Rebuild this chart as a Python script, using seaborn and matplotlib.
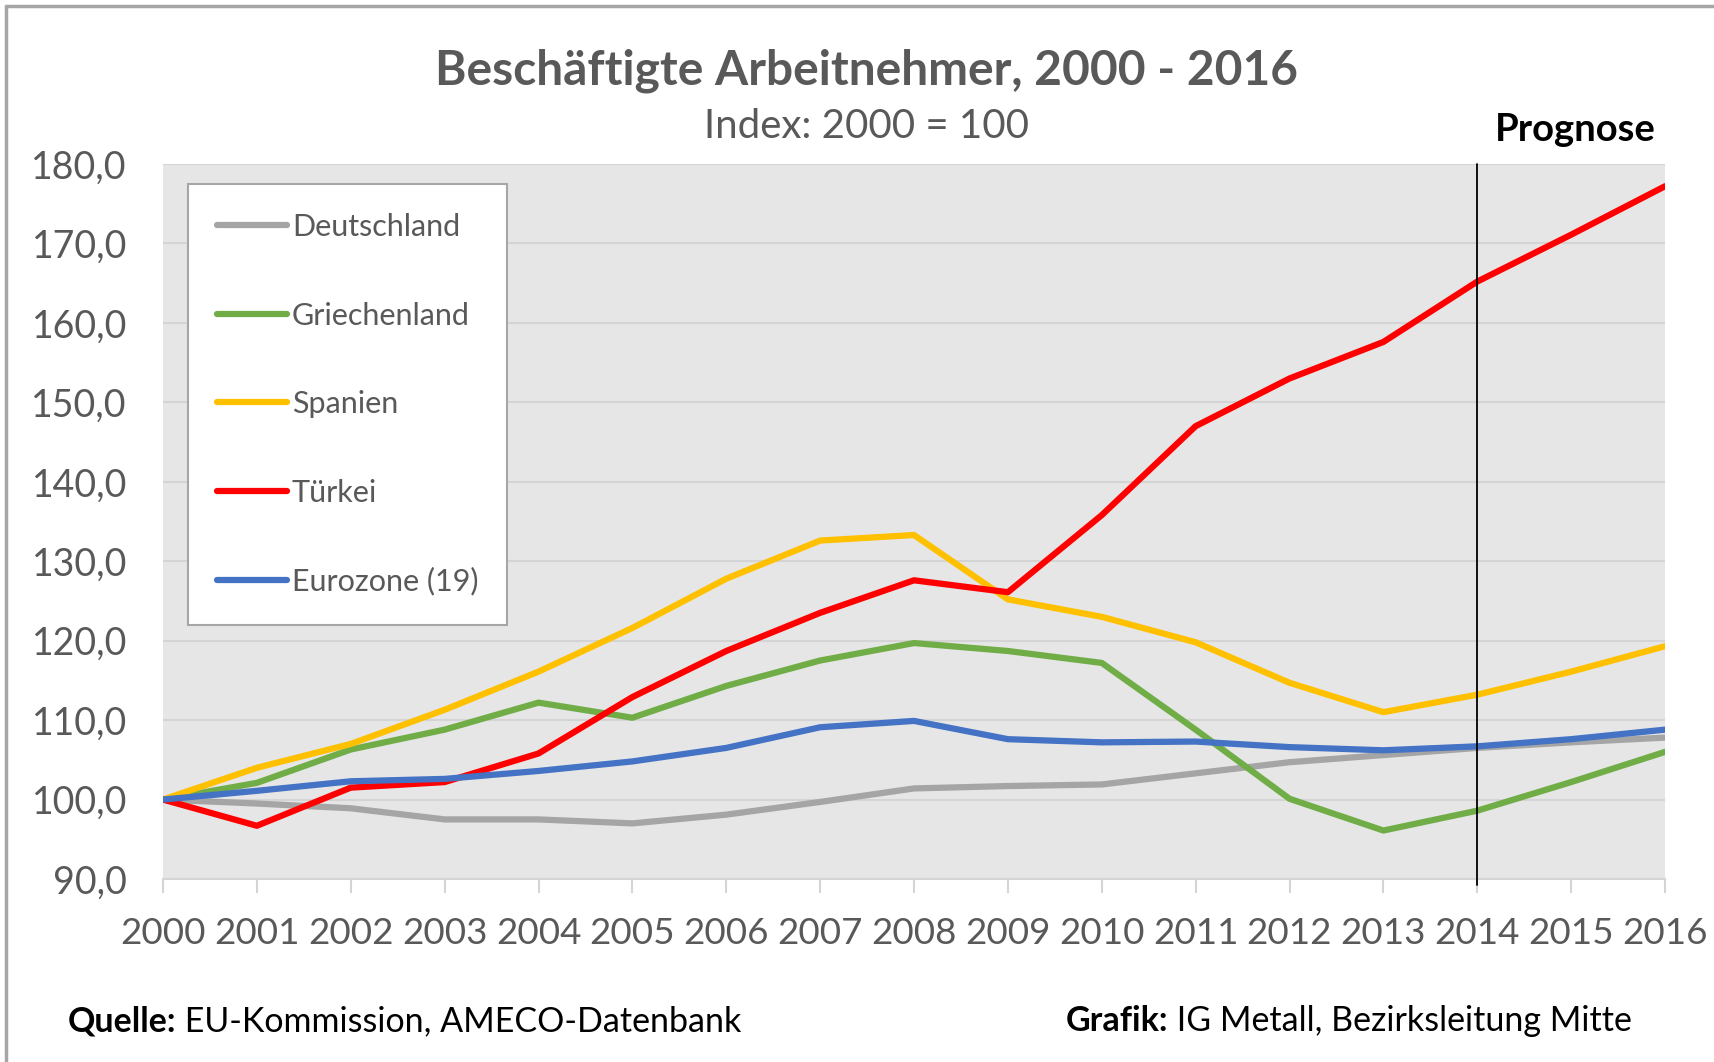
import numpy as np
import pandas as pd
import matplotlib
matplotlib.use("Agg")
import matplotlib.pyplot as plt
from matplotlib.lines import Line2D
import seaborn as sns

years = list(range(2000, 2017))
deutschland = [100.0, 99.5, 98.9, 97.5, 97.5, 97.0, 98.1, 99.7, 101.4, 101.7, 101.9,
               103.3, 104.7, 105.6, 106.5, 107.2, 107.8]
griechenland = [100.0, 102.1, 106.3, 108.8, 112.2, 110.3, 114.3, 117.5, 119.7, 118.7, 117.2,
                108.8, 100.1, 96.1, 98.6, 102.2, 106.0]
spanien = [100.0, 104.0, 107.0, 111.3, 116.1, 121.6, 127.8, 132.6, 133.3, 125.2, 123.0,
           119.8, 114.7, 111.0, 113.2, 116.1, 119.3]
tuerkei = [100.0, 96.7, 101.5, 102.2, 105.8, 112.9, 118.7, 123.5, 127.6, 126.1, 135.8,
           147.0, 153.0, 157.6, 165.2, 171.1, 177.2]
eurozone = [100.0, 101.1, 102.3, 102.6, 103.6, 104.8, 106.5, 109.1, 109.9, 107.6, 107.2,
            107.3, 106.6, 106.2, 106.7, 107.6, 108.8]

series_names = ["Deutschland", "Griechenland", "Spanien", "Türkei", "Eurozone (19)"]
colors = ["#A5A5A5", "#70AD47", "#FFC000", "#FF0000", "#4472C4"]
y_ticks = [90, 100, 110, 120, 130, 140, 150, 160, 170, 180]
prognose_year = 2014

df = pd.DataFrame({"Jahr": years,
                   "Deutschland": deutschland,
                   "Griechenland": griechenland,
                   "Spanien": spanien,
                   "Türkei": tuerkei,
                   "Eurozone (19)": eurozone})
long = df.melt(id_vars="Jahr", var_name="Land", value_name="Index")

sns.set_theme(style="white")
plt.rcParams["font.family"] = ["Lato", "DejaVu Sans"]

W, H = 1715, 1062
fig = plt.figure(figsize=(W / 100, H / 100), dpi=100)
ax = fig.add_axes([163 / W, 1 - 879 / H, 1502 / W, 715 / H])
ax.set_facecolor("#E6E6E6")

sns.lineplot(data=long, x="Jahr", y="Index", hue="Land", hue_order=series_names,
             palette=colors, linewidth=4.5, ax=ax, legend=False)

ax.set_xlim(2000, 2016)
ax.set_ylim(90, 180)
ax.set_xticks(years)
ax.set_yticks(y_ticks)
ax.set_yticklabels([f"{v:.1f}".replace(".", ",") for v in y_ticks])
ax.set_xlabel("")
ax.set_ylabel("")
ax.grid(axis="y", color="#D4D4D4", linewidth=1.5)
ax.set_axisbelow(True)
for s in ["left", "right", "top"]:
    ax.spines[s].set_visible(False)
ax.spines["bottom"].set_color("#D4D4D4")
ax.spines["bottom"].set_linewidth(1.5)
ax.tick_params(axis="x", bottom=True, length=10, width=1.5, color="#D4D4D4",
               labelsize=26.5, labelcolor="#595959", pad=17)
ax.tick_params(axis="y", left=False, labelsize=27, labelcolor="#595959", pad=20)

ax.axvline(prognose_year, ymin=-0.008, ymax=1.0, color="black", linewidth=1.3,
           clip_on=False, zorder=5)

handles = [Line2D([0], [0], color=c, linewidth=4.5) for c in colors]
leg = ax.legend(handles, series_names, loc="upper left",
                bbox_to_anchor=(0.0166, 0.972), fontsize=22, labelspacing=1.98,
                handlelength=2.3, handletextpad=0.15, borderpad=0.95,
                frameon=True, fancybox=False, framealpha=1, borderaxespad=0)
leg.get_frame().set_edgecolor("#A6A6A6")
leg.get_frame().set_linewidth(1.5)
for t in leg.get_texts():
    t.set_color("#595959")

fig.text(867 / W, 1 - 71 / H, "Beschäftigte Arbeitnehmer, 2000 - 2016",
         ha="center", va="center", fontsize=34.5, fontweight="bold", color="#595959")
fig.text(867 / W, 1 - 127 / H, "Index: 2000 = 100", ha="center", va="center",
         fontsize=29, color="#595959")
fig.text(1575 / W, 1 - 130 / H, "Prognose", ha="center", va="center",
         fontsize=27.5, fontweight="bold", color="black")

# footer: bold label followed by normal text
fig.canvas.draw()
renderer = fig.canvas.get_renderer()
for x0, bold, rest in [(68, "Quelle:", " EU-Kommission, AMECO-Datenbank"),
                       (1066, "Grafik:", " IG Metall, Bezirksleitung Mitte")]:
    t1 = fig.text(x0 / W, 1 - 1031 / H, bold, ha="left", va="baseline",
                  fontsize=24.5, fontweight="bold", color="black")
    bb = t1.get_window_extent(renderer=renderer)
    fig.text(bb.x1 / W, 1 - 1031 / H, rest, ha="left", va="baseline",
             fontsize=24.5, color="black")

# outer frame (top and left edges visible)
fig.add_artist(Line2D([6 / W, 6 / W], [0, 1 - 6 / H], transform=fig.transFigure,
                      color="#A6A6A6", linewidth=2.5))
fig.add_artist(Line2D([6 / W, 1], [1 - 6 / H, 1 - 6 / H], transform=fig.transFigure,
                      color="#A6A6A6", linewidth=2.5))

fig.savefig("out.png", dpi=100)
